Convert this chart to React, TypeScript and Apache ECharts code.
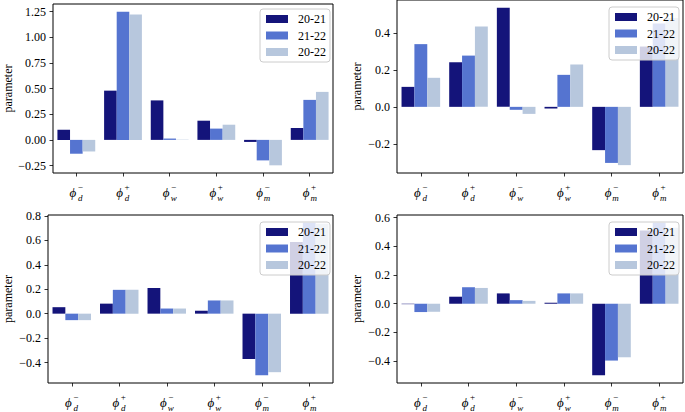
import { useEffect, useRef } from "react";
import * as echarts from "echarts";

// category labels: phi with subscript and superscript
const CAT_SUB = ["d", "d", "w", "w", "m", "m"];
const CAT_SUP = ["−", "+", "−", "+", "−", "+"];
const CATEGORIES = CAT_SUB.map((s, i) => `ϕ_${s}^${CAT_SUP[i]}`);

const SERIES_NAMES = ["20-21", "21-22", "20-22"];
const COLORS = ["#14147a", "#5574d0", "#b7c7dd"];

// top-left panel
const A_2021 = [0.1, 0.48, 0.385, 0.187, -0.02, 0.116];
const A_2122 = [-0.135, 1.25, 0.013, 0.11, -0.2, 0.39];
const A_2022 = [-0.113, 1.222, 0.003, 0.148, -0.248, 0.468];
const TICKS_A = [-0.25, 0, 0.25, 0.5, 0.75, 1, 1.25];

// top-right panel
const B_2021 = [0.108, 0.241, 0.535, -0.009, -0.234, 0.326];
const B_2122 = [0.339, 0.277, -0.016, 0.173, -0.303, 0.45];
const B_2022 = [0.157, 0.434, -0.038, 0.229, -0.315, 0.48];
const TICKS_B = [-0.2, 0, 0.2, 0.4];

// bottom-left panel
const C_2021 = [0.053, 0.082, 0.21, 0.024, -0.371, 0.587];
const C_2122 = [-0.053, 0.195, 0.042, 0.108, -0.505, 0.745];
const C_2022 = [-0.053, 0.195, 0.042, 0.108, -0.479, 0.735];
const TICKS_C = [-0.4, -0.2, 0, 0.2, 0.4, 0.6, 0.8];

// bottom-right panel
const D_2021 = [-0.003, 0.049, 0.072, 0.007, -0.499, 0.51];
const D_2122 = [-0.058, 0.115, 0.025, 0.072, -0.396, 0.565];
const D_2022 = [-0.056, 0.11, 0.02, 0.072, -0.373, 0.53];
const TICKS_D = [-0.4, -0.2, 0, 0.2, 0.4, 0.6];

const FONT = "Liberation Serif";

const PANELS = [
  { values: [A_2021, A_2122, A_2022], ticks: TICKS_A, dec: 2,
    grid: { left: 53, top: 4, width: 280, height: 169 }, legend: { left: 260, top: 9 }, nameGap: 39 },
  { values: [B_2021, B_2122, B_2022], ticks: TICKS_B, dec: 1,
    grid: { left: 397, top: -0.5, width: 286, height: 173.5 }, legend: { left: 609, top: 7 }, nameGap: 34 },
  { values: [C_2021, C_2122, C_2022], ticks: TICKS_C, dec: 1,
    grid: { left: 48, top: 215, width: 285, height: 173 }, legend: { left: 260, top: 222 }, nameGap: 34 },
  { values: [D_2021, D_2122, D_2022], ticks: TICKS_D, dec: 1,
    grid: { left: 397, top: 215, width: 286, height: 173 }, legend: { left: 609, top: 222 }, nameGap: 34 },
];

// matplotlib-like autoscale: 5% margin around data (including 0)
function limits(series: number[][]) {
  const all = series.flat().concat(0);
  const lo = Math.min(...all);
  const hi = Math.max(...all);
  const pad = (hi - lo) * 0.05;
  return [lo - pad, hi + pad];
}

const fmt = (dec: number) => (v: number) =>
  (v < 0 ? "−" : "") + Math.abs(v).toFixed(dec);

export default function App() {
  const chartRef = useRef<HTMLDivElement>(null);

  useEffect(() => {
    if (!chartRef.current) return;
    const chart = echarts.init(chartRef.current, undefined, { renderer: "svg" });

    const grids = PANELS.map((p) => ({
      ...p.grid,
      show: true,
      borderColor: "#000",
      borderWidth: 1,
      backgroundColor: "transparent",
    }));

    const xAxes = PANELS.map((_p, i) => ({
      type: "category",
      gridIndex: i,
      data: CATEGORIES,
      axisLine: { show: false, onZero: false },
      axisTick: { show: true, alignWithLabel: true, length: 3.5, lineStyle: { color: "#000", width: 0.8 } },
      axisLabel: {
        interval: 0,
        margin: 12,
        fontFamily: FONT,
        formatter: (_v: string, idx: number) =>
          `{ga| }{sup|${CAT_SUP[idx]}}\n{phi|ϕ}{gb| }\n{ga| }{sub|${CAT_SUB[idx]}}`,
        rich: {
          ga: { width: 8, lineHeight: 4, fontSize: 6, fontFamily: FONT },
          gb: { width: 7, lineHeight: 6, fontSize: 6, fontFamily: FONT },
          sup: { width: 7, lineHeight: 4, fontSize: 9, fontFamily: FONT, color: "#000" },
          phi: { width: 8, lineHeight: 6, fontSize: 13, fontStyle: "italic", fontFamily: FONT, color: "#000" },
          sub: { width: 7, lineHeight: 5, fontSize: 9, fontStyle: "italic", fontFamily: FONT, color: "#000" },
        },
      },
      splitLine: { show: false },
    }));

    const yAxes = PANELS.map((p, i) => {
      const [min, max] = limits(p.values);
      return {
        type: "value",
        gridIndex: i,
        min,
        max,
        name: "parameter",
        nameLocation: "middle",
        nameGap: p.nameGap,
        nameTextStyle: { fontFamily: FONT, fontSize: 12, color: "#000" },
        axisLine: { show: false },
        axisTick: { show: true, length: 3.5, customValues: p.ticks, lineStyle: { color: "#000", width: 0.8 } },
        axisLabel: {
          customValues: p.ticks,
          margin: 7,
          formatter: fmt(p.dec),
          fontFamily: FONT,
          fontSize: 12,
          color: "#000",
        },
        splitLine: { show: false },
      };
    });

    const series = PANELS.flatMap((p, i) =>
      p.values.map((vals, s) => ({
        type: "bar",
        name: SERIES_NAMES[s],
        xAxisIndex: i,
        yAxisIndex: i,
        data: vals,
        barGap: "0%",
        barCategoryGap: "19%",
        itemStyle: { color: COLORS[s] },
      }))
    );

    const legends = PANELS.map((p) => ({
      orient: "vertical",
      left: p.legend.left,
      top: p.legend.top,
      data: SERIES_NAMES,
      icon: "rect",
      itemWidth: 22,
      itemHeight: 8,
      itemGap: 2.5,
      padding: [3, 4, 3, 6],
      backgroundColor: "rgba(255,255,255,0.8)",
      borderColor: "#cccccc",
      borderWidth: 1,
      borderRadius: 3,
      textStyle: { fontFamily: FONT, fontSize: 12, color: "#000", lineHeight: 14, padding: [0, 0, 0, 5] },
      selectedMode: false,
    }));

    chart.setOption({
      animation: false,
      color: COLORS,
      textStyle: { fontFamily: FONT },
      grid: grids,
      xAxis: xAxes,
      yAxis: yAxes,
      legend: legends,
      series,
    });

    return () => chart.dispose();
  }, []);

  return (
    <div
      ref={chartRef}
      style={{ position: "fixed", left: 0, top: 0, width: 685, height: 412, background: "#fff" }}
    />
  );
}
